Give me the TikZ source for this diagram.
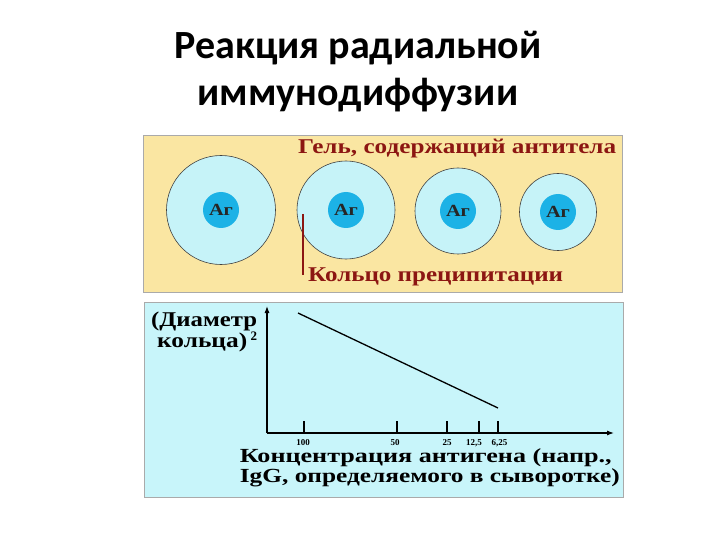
\documentclass[tikz,border=0pt]{standalone}
\usepackage{fontspec}
\usepackage{graphicx}
\setmainfont{Liberation Serif}
\newfontfamily\titlefont{Carlito}
\usetikzlibrary{arrows.meta}
\definecolor{gelyellow}{RGB}{250,230,162}
\definecolor{panelcyan}{RGB}{200,245,250}
\definecolor{ringfill}{RGB}{198,243,248}
\definecolor{agblue}{RGB}{28,178,230}
\definecolor{darkred}{RGB}{140,22,18}
\definecolor{frameg}{RGB}{170,170,170}
\newcommand{\stretchto}[2]{\resizebox{#1}{\height}{#2}}
\tikzset{
  panel/.style={draw=frameg, line width=0.6pt},
  ring/.style={circle, draw=black!75, line width=0.6pt, fill=ringfill, inner sep=0pt},
  ag/.style={circle, fill=agblue, inner sep=0pt, minimum size=36pt, font=\bfseries\fontsize{17}{17}\selectfont, text=black!85},
  redlbl/.style={font=\bfseries\fontsize{21}{21}\selectfont, text=darkred, inner sep=0pt, anchor=base west},
  blklbl/.style={font=\bfseries\fontsize{21}{21}\selectfont, text=black, inner sep=0pt},
  xlbl/.style={font=\bfseries\fontsize{20}{20}\selectfont, text=black, inner sep=0pt, anchor=base east},
  ticklbl/.style={font=\bfseries\fontsize{9}{9}\selectfont, text=black, inner sep=0pt, anchor=base},
  axis/.style={line width=1.1pt, -{Latex[length=7pt,width=5pt]}},
  tick/.style={line width=1.3pt},
  title/.style={font=\titlefont\bfseries\fontsize{40}{40}\selectfont, inner sep=0pt, anchor=base}
}
\begin{document}
\begin{tikzpicture}[x=1pt,y=-1pt]
\useasboundingbox (0,0) rectangle (720,540);
\fill[white] (0,0) rectangle (720,540);
% title
\node[title] (t1) at (358,59) {Реакция радиальной};
\node[title] (t2) at (358,106) {иммунодиффузии};
% panels
\draw[panel, fill=gelyellow] (143,135) rectangle (622,292);
\draw[panel, fill=panelcyan] (144,302) rectangle (623,497);
% rings
\node[ring, minimum size=109pt] (r1) at (221,210) {};
\node[ring, minimum size=98pt] (r2) at (346,210) {};
\node[ring, minimum size=86pt] (r3) at (458,211) {};
\node[ring, minimum size=77pt] (r4) at (558,212) {};
\node[ag] (a1) at (r1) {\stretchto{24pt}{Аг}};
\node[ag] (a2) at (r2) {\stretchto{24pt}{Аг}};
\node[ag] (a3) at (r3) {\stretchto{24pt}{Аг}};
\node[ag] (a4) at (r4) {\stretchto{24pt}{Аг}};
\node[redlbl] (gel) at (298,154) {\stretchto{318pt}{Гель, содержащий антитела}};
\node[redlbl] (ring) at (308,281) {\stretchto{255pt}{Кольцо преципитации}};
\coordinate (ptop) at (303,214);
\coordinate (pbot) at (303,275);
\draw[darkred, line width=1.4pt] (ptop) -- (pbot);
% graph
\coordinate (o) at (267,433);
\coordinate (ytop) at (267,306);
\coordinate (xend) at (614,433);
\draw[axis] (o) -- (ytop);
\draw[axis] (o) -- (xend);
\foreach \x/\n in {304/k1, 397/k2, 447/k3, 479/k4, 498/k5}{
  \coordinate (\n) at (\x,433);
  \draw[tick] (\n) -- ++(0,-12);
}
\node[ticklbl] (l1) at (303,445) {100};
\node[ticklbl] (l2) at (395,445) {50};
\node[ticklbl] (l3) at (447,445) {25};
\node[ticklbl] (l4) at (474,445) {12,5};
\node[ticklbl] (l5) at (499.5,445) {6,25};
\coordinate (ls) at (298,313);
\coordinate (le) at (498,408);
\draw[line width=1.3pt] (ls) -- (le);
\node[blklbl, anchor=base west] (y1) at (151,326) {\stretchto{106pt}{(Диаметр}};
\node[blklbl, anchor=base west] (y2) at (157,347) {\stretchto{90pt}{кольца)}\,\raisebox{7pt}{\fontsize{13}{13}\selectfont 2}};
\node[xlbl] (x1) at (612,462.5) {\stretchto{372pt}{Концентрация антигена (напр.,}};
\node[xlbl] (x2) at (620,482) {\stretchto{380pt}{IgG, определяемого в сыворотке)}};
\end{tikzpicture}
\end{document}
